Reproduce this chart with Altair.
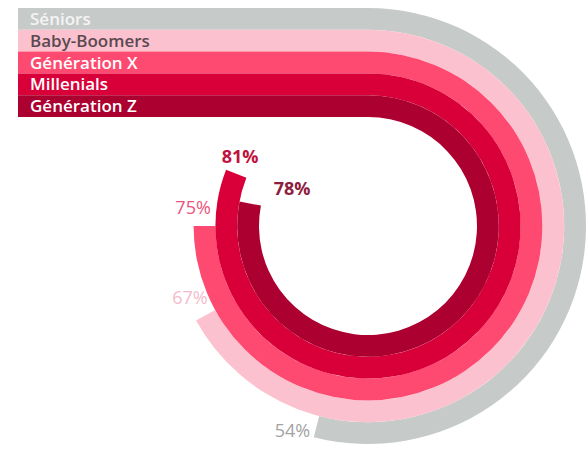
import math
import altair as alt
import pandas as pd

# ---- data ----
series = ["Séniors", "Baby-Boomers", "Génération X", "Millenials", "Génération Z"]
values = [0.54, 0.67, 0.75, 0.81, 0.78]
ring = [4, 3, 2, 1, 0]  # 0 = innermost ring

# ---- styling ----
colors = ["#c6cac9", "#fcc1cf", "#fe4a70", "#d9003a", "#ab0030"]
name_colors = ["#f4f4f4", "#5a4a50", "#ffffff", "#ffffff", "#ffffff"]
pct_colors = ["#a3a3a3", "#f3bccb", "#e9557c", "#c0123e", "#8c1e3e"]
pct_bold = [False, False, False, True, True]
label_dt = [0.016, 0.018, 0.015, 0.018, 0.040]   # label angular nudge (fraction of turn)
label_dr = [0.55, 0.33, 0.56, 0.15, -1.65]       # label radial nudge (ring units)

CX, CY = 368, 226
R_IN, R_OUT = 109, 218
BAR_LEFT = 18

df = pd.DataFrame({
    "series": series,
    "value": values,
    "ring": ring,
    "name_color": name_colors,
    "pct_color": pct_colors,
    "bold": pct_bold,
    "dt": label_dt,
    "dr": label_dr,
})
df["start"] = 0.0
df["inner"] = df["ring"]
df["outer"] = df["ring"] + 1
df["mid"] = df["ring"] + 0.5
df["lab_t"] = df["value"] + df["dt"]
df["lab_r"] = df["mid"] + df["dr"]

color = alt.Color("series:N", scale=alt.Scale(domain=series, range=colors), legend=None)
tscale = alt.Scale(domain=[0, 1], range=[0, 2 * math.pi])
rscale = alt.Scale(type="linear", domain=[0, 5], range=[R_IN, R_OUT], zero=False)
yscale = alt.Scale(domain=[0, 5], range=[CY - R_IN, CY - R_OUT], zero=False)

base = alt.Chart(df)

bars = base.mark_rect().encode(
    x=alt.value(BAR_LEFT),
    x2=alt.value(CX),
    y=alt.Y("outer:Q", scale=yscale, axis=None),
    y2="inner:Q",
    color=color,
)

arcs = base.mark_arc().encode(
    x=alt.value(CX),
    y=alt.value(CY),
    theta=alt.Theta("start:Q", scale=tscale, stack=None),
    theta2="value:Q",
    radius=alt.Radius("inner:Q", scale=rscale),
    radius2="outer:Q",
    color=color,
)

names = base.mark_text(
    align="left", baseline="middle", font="Open Sans", fontSize=17, fontWeight=600, dy=1
).encode(
    x=alt.value(30),
    y=alt.Y("mid:Q", scale=yscale, axis=None),
    text="series:N",
    color=alt.Color("name_color:N", scale=None),
)

def pct_layer(bold):
    return base.transform_filter(
        alt.datum.bold == bold
    ).mark_text(
        align="center", baseline="middle", font="Open Sans", fontSize=18,
        fontWeight="bold" if bold else "normal",
    ).encode(
        x=alt.value(CX),
        y=alt.value(CY),
        theta=alt.Theta("lab_t:Q", scale=tscale, stack=None),
        radius=alt.Radius("lab_r:Q", scale=rscale),
        text=alt.Text("value:Q", format=".0%"),
        color=alt.Color("pct_color:N", scale=None),
    )

chart = alt.layer(bars, arcs, names, pct_layer(False), pct_layer(True)).properties(
    width=586, height=449, padding=0, autosize="none", background="white"
).configure_view(stroke=None)

chart.save("out.html", embed_options={"renderer": "svg", "actions": False})
